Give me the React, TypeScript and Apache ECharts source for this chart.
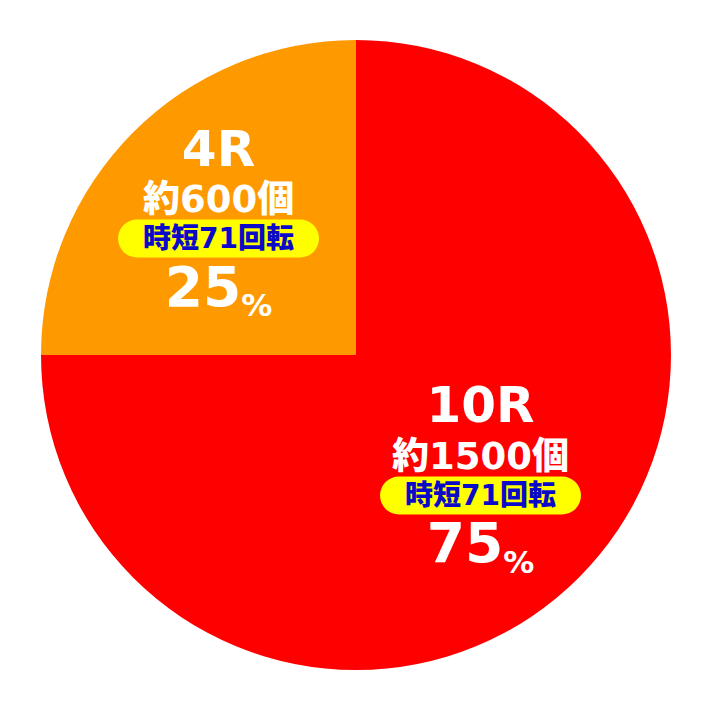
import React, { useEffect, useRef } from 'react';
import * as echarts from 'echarts';

// slice data, clockwise from 12 o'clock
const rounds = ['10R', '4R'];
const shares = [75, 25];
const payouts = ['約1500個', '約600個'];
const jitan = ['時短71回転', '時短71回転'];
const sliceColors = ['#FF0000', '#FF9900'];

const FONT = '"DejaVu Sans", "Noto Sans CJK JP", sans-serif';

const App = () => {
    const chartRef = useRef(null);

    useEffect(() => {
        const myChart = echarts.init(chartRef.current, null, { renderer: 'svg' });

        myChart.setOption({
            animation: false,
            series: [
                {
                    type: 'pie',
                    center: [356, 355],
                    radius: [0, 315],
                    startAngle: 90,
                    clockwise: true,
                    silent: true,
                    labelLine: { show: false },
                    label: {
                        show: true,
                        position: 'inside',
                        fontFamily: FONT,
                        formatter: (p: any) => {
                            const i = p.dataIndex;
                            return [
                                `{big|${rounds[i]}}`,
                                `{mid|${payouts[i]}}`,
                                `{pill|${jitan[i]}}`,
                                `{pct|${shares[i]}}{pc|%}`,
                            ].join('\n');
                        },
                        rich: {
                            big: {
                                fontFamily: FONT,
                                fontSize: 50,
                                fontWeight: 900,
                                color: '#fff',
                                lineHeight: 52,
                            },
                            mid: {
                                fontFamily: FONT,
                                fontSize: 37,
                                fontWeight: 900,
                                color: '#fff',
                                lineHeight: 50,
                            },
                            pill: {
                                fontFamily: FONT,
                                fontSize: 28,
                                fontWeight: 900,
                                color: '#0A0AC8',
                                backgroundColor: '#FFFF00',
                                borderRadius: 19,
                                padding: [5, 25, 5, 25],
                                lineHeight: 28,
                            },
                            pct: {
                                fontFamily: FONT,
                                fontSize: 55,
                                fontWeight: 900,
                                color: '#fff',
                                lineHeight: 68,
                            },
                            pc: {
                                fontFamily: FONT,
                                fontSize: 31,
                                fontWeight: 900,
                                color: '#fff',
                                lineHeight: 68,
                                verticalAlign: 'bottom',
                            },
                        },
                    },
                    data: rounds.map((name, i) => ({
                        name,
                        value: shares[i],
                        itemStyle: { color: sliceColors[i] },
                        label: { offset: i === 0 ? [11, 10] : [-24, -20] },
                    })),
                },
            ],
        });

        return () => {
            myChart.dispose();
        };
    }, []);

    return (
        <div
            ref={chartRef}
            style={{ position: 'absolute', left: 0, top: 0, width: '712px', height: '710px' }}
        />
    );
};

export default App;
